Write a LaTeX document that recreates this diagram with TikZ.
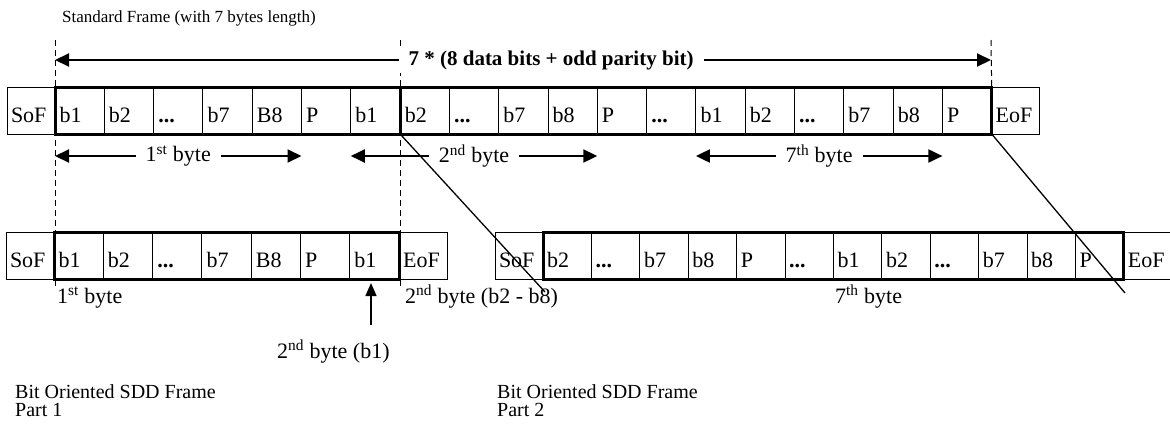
\documentclass[tikz,border=0pt]{standalone}
\usepackage{fontspec}
\setmainfont{Liberation Serif}
\usetikzlibrary{arrows.meta}
\usetikzlibrary{positioning}

\begin{document}
\begin{tikzpicture}[x=1pt, y=-1pt,
    cell/.style={draw, line width=1pt, outer sep=0pt, inner xsep=0pt,
        minimum width=#1, minimum height=47pt, text width=40pt, align=left,
        text height=23pt, text depth=0pt, font=\fontsize{22}{26}\selectfont},
    cell/.default=49.3pt,
    frame/.style={line width=3pt},
    cut/.style={dash pattern=on 6pt off 4pt, line width=1pt},
    span/.style={{Triangle[length=14pt,width=13pt]}-{Triangle[length=14pt,width=13pt]}, line width=2pt},
    lbl/.style={fill=white, inner xsep=10pt, font=\fontsize{22}{26}\selectfont},
    txt/.style={anchor=base west, inner sep=0pt, font=\fontsize{22}{26}\selectfont},
    note/.style={anchor=north west, inner sep=0pt, align=left, font=\fontsize{20}{18}\selectfont}]
    \useasboundingbox (0,0) rectangle (1170,432);

    % standard frame
    \node [cell=48pt, anchor=north west] (tsof) at (7,87) {SoF};
    \node [cell] (t1) [right=0pt of tsof] {b1};
    \node [cell] (t2) [right=0pt of t1] {b2};
    \node [cell] (t3) [right=0pt of t2] {\textbf{...}};
    \node [cell] (t4) [right=0pt of t3] {b7};
    \node [cell] (t5) [right=0pt of t4] {B8};
    \node [cell] (t6) [right=0pt of t5] {P};
    \node [cell] (t7) [right=0pt of t6] {b1};
    \node [cell] (t8) [right=0pt of t7] {b2};
    \node [cell] (t9) [right=0pt of t8] {\textbf{...}};
    \node [cell] (t10) [right=0pt of t9] {b7};
    \node [cell] (t11) [right=0pt of t10] {b8};
    \node [cell] (t12) [right=0pt of t11] {P};
    \node [cell] (t13) [right=0pt of t12] {\textbf{...}};
    \node [cell] (t14) [right=0pt of t13] {b1};
    \node [cell] (t15) [right=0pt of t14] {b2};
    \node [cell] (t16) [right=0pt of t15] {\textbf{...}};
    \node [cell] (t17) [right=0pt of t16] {b7};
    \node [cell] (t18) [right=0pt of t17] {b8};
    \node [cell] (t19) [right=0pt of t18] {P};
    \node [cell=48pt] (teof) [right=0pt of t19] {EoF};
    \draw [frame] (t1.north west) rectangle (t19.south east);
    \draw [frame] (t7.north east) -- (t7.south east);

    % part 1
    \node [cell=48pt, anchor=north west] (asof) at (6,232) {SoF};
    \node [cell] (a1) [right=0pt of asof] {b1};
    \node [cell] (a2) [right=0pt of a1] {b2};
    \node [cell] (a3) [right=0pt of a2] {\textbf{...}};
    \node [cell] (a4) [right=0pt of a3] {b7};
    \node [cell] (a5) [right=0pt of a4] {B8};
    \node [cell] (a6) [right=0pt of a5] {P};
    \node [cell] (a7) [right=0pt of a6] {b1};
    \node [cell=48pt] (aeof) [right=0pt of a7] {EoF};
    \draw [frame] (a1.north west) rectangle (a7.south east);

    % part 2
    \node [cell=48pt, anchor=north west] (bsof) at (495,232) {SoF};
    \node [cell=48.4pt] (b1) [right=0pt of bsof] {b2};
    \node [cell=48.4pt] (b2) [right=0pt of b1] {\textbf{...}};
    \node [cell=48.4pt] (b3) [right=0pt of b2] {b7};
    \node [cell=48.4pt] (b4) [right=0pt of b3] {b8};
    \node [cell=48.4pt] (b5) [right=0pt of b4] {P};
    \node [cell=48.4pt] (b6) [right=0pt of b5] {\textbf{...}};
    \node [cell=48.4pt] (b7) [right=0pt of b6] {b1};
    \node [cell=48.4pt] (b8) [right=0pt of b7] {b2};
    \node [cell=48.4pt] (b9) [right=0pt of b8] {\textbf{...}};
    \node [cell=48.4pt] (b10) [right=0pt of b9] {b7};
    \node [cell=48.4pt] (b11) [right=0pt of b10] {b8};
    \node [cell=48.4pt] (b12) [right=0pt of b11] {P};
    \node [cell=48pt] (beof) [right=0pt of b12] {EoF};
    \draw [frame] (b1.north west) rectangle (b12.south east);

    % cut lines
    \coordinate (d1) at (55,40);
    \coordinate (d1e) at (55,288);
    \coordinate (d2) at (400,40);
    \coordinate (d2e) at (400,288);
    \coordinate (d3) at (991,40);
    \draw [cut] (d1) -- (d1e);
    \draw [cut] (d2) -- (d2e);
    \draw [cut] (d3) -- (t19.north east);

    \node [note, anchor=base west, font=\fontsize{17}{18}\selectfont] (title) at (62,22) {Standard Frame (with 7 bytes length)};
    \coordinate (al) at (55,60);
    \coordinate (ar) at (991,60);
    \draw [span] (al) -- node [lbl, pos=0.53, font=\fontsize{21}{26}\selectfont\bfseries] (total) {7 * (8 data bits + odd parity bit)} (ar);

    \draw [span] (t1.west |- 0,156) -- node [lbl] (byte1) {1\textsuperscript{st} byte} (t5.east |- 0,156);
    \draw [span] (t7.west |- 0,156) -- node [lbl] (byte2) {2\textsuperscript{nd} byte} (t11.east |- 0,156);
    \draw [span] (t14.west |- 0,156) -- node [lbl] (byte7) {7\textsuperscript{th} byte} (t18.east |- 0,156);

    \coordinate (x1) at (545,292);
    \coordinate (x2) at (1125,293);
    \draw [line width=1.3pt] (t7.south east) -- (x1);
    \draw [line width=1.3pt] (t19.south east) -- (x2);

    \node [txt] (lb1) at (57,303) {1\textsuperscript{st} byte};
    \node [txt] (lb2) at (405,303) {2\textsuperscript{nd} byte (b2 - b8)};
    \node [txt] (lb7) at (835,303) {7\textsuperscript{th} byte};

    \coordinate (up) at (371,325);
    \coordinate (upend) at (371,283);
    \draw [-{Triangle[length=13pt,width=11pt]}, line width=1.5pt] (up) -- (upend);
    \node [txt] (lbup) at (277,358) {2\textsuperscript{nd} byte (b1)};

    \node [note] (part1) at (15,384) {Bit Oriented SDD Frame\\Part 1};
    \node [note] (part2) at (497,384) {Bit Oriented SDD Frame\\Part 2};
\end{tikzpicture}
\end{document}
